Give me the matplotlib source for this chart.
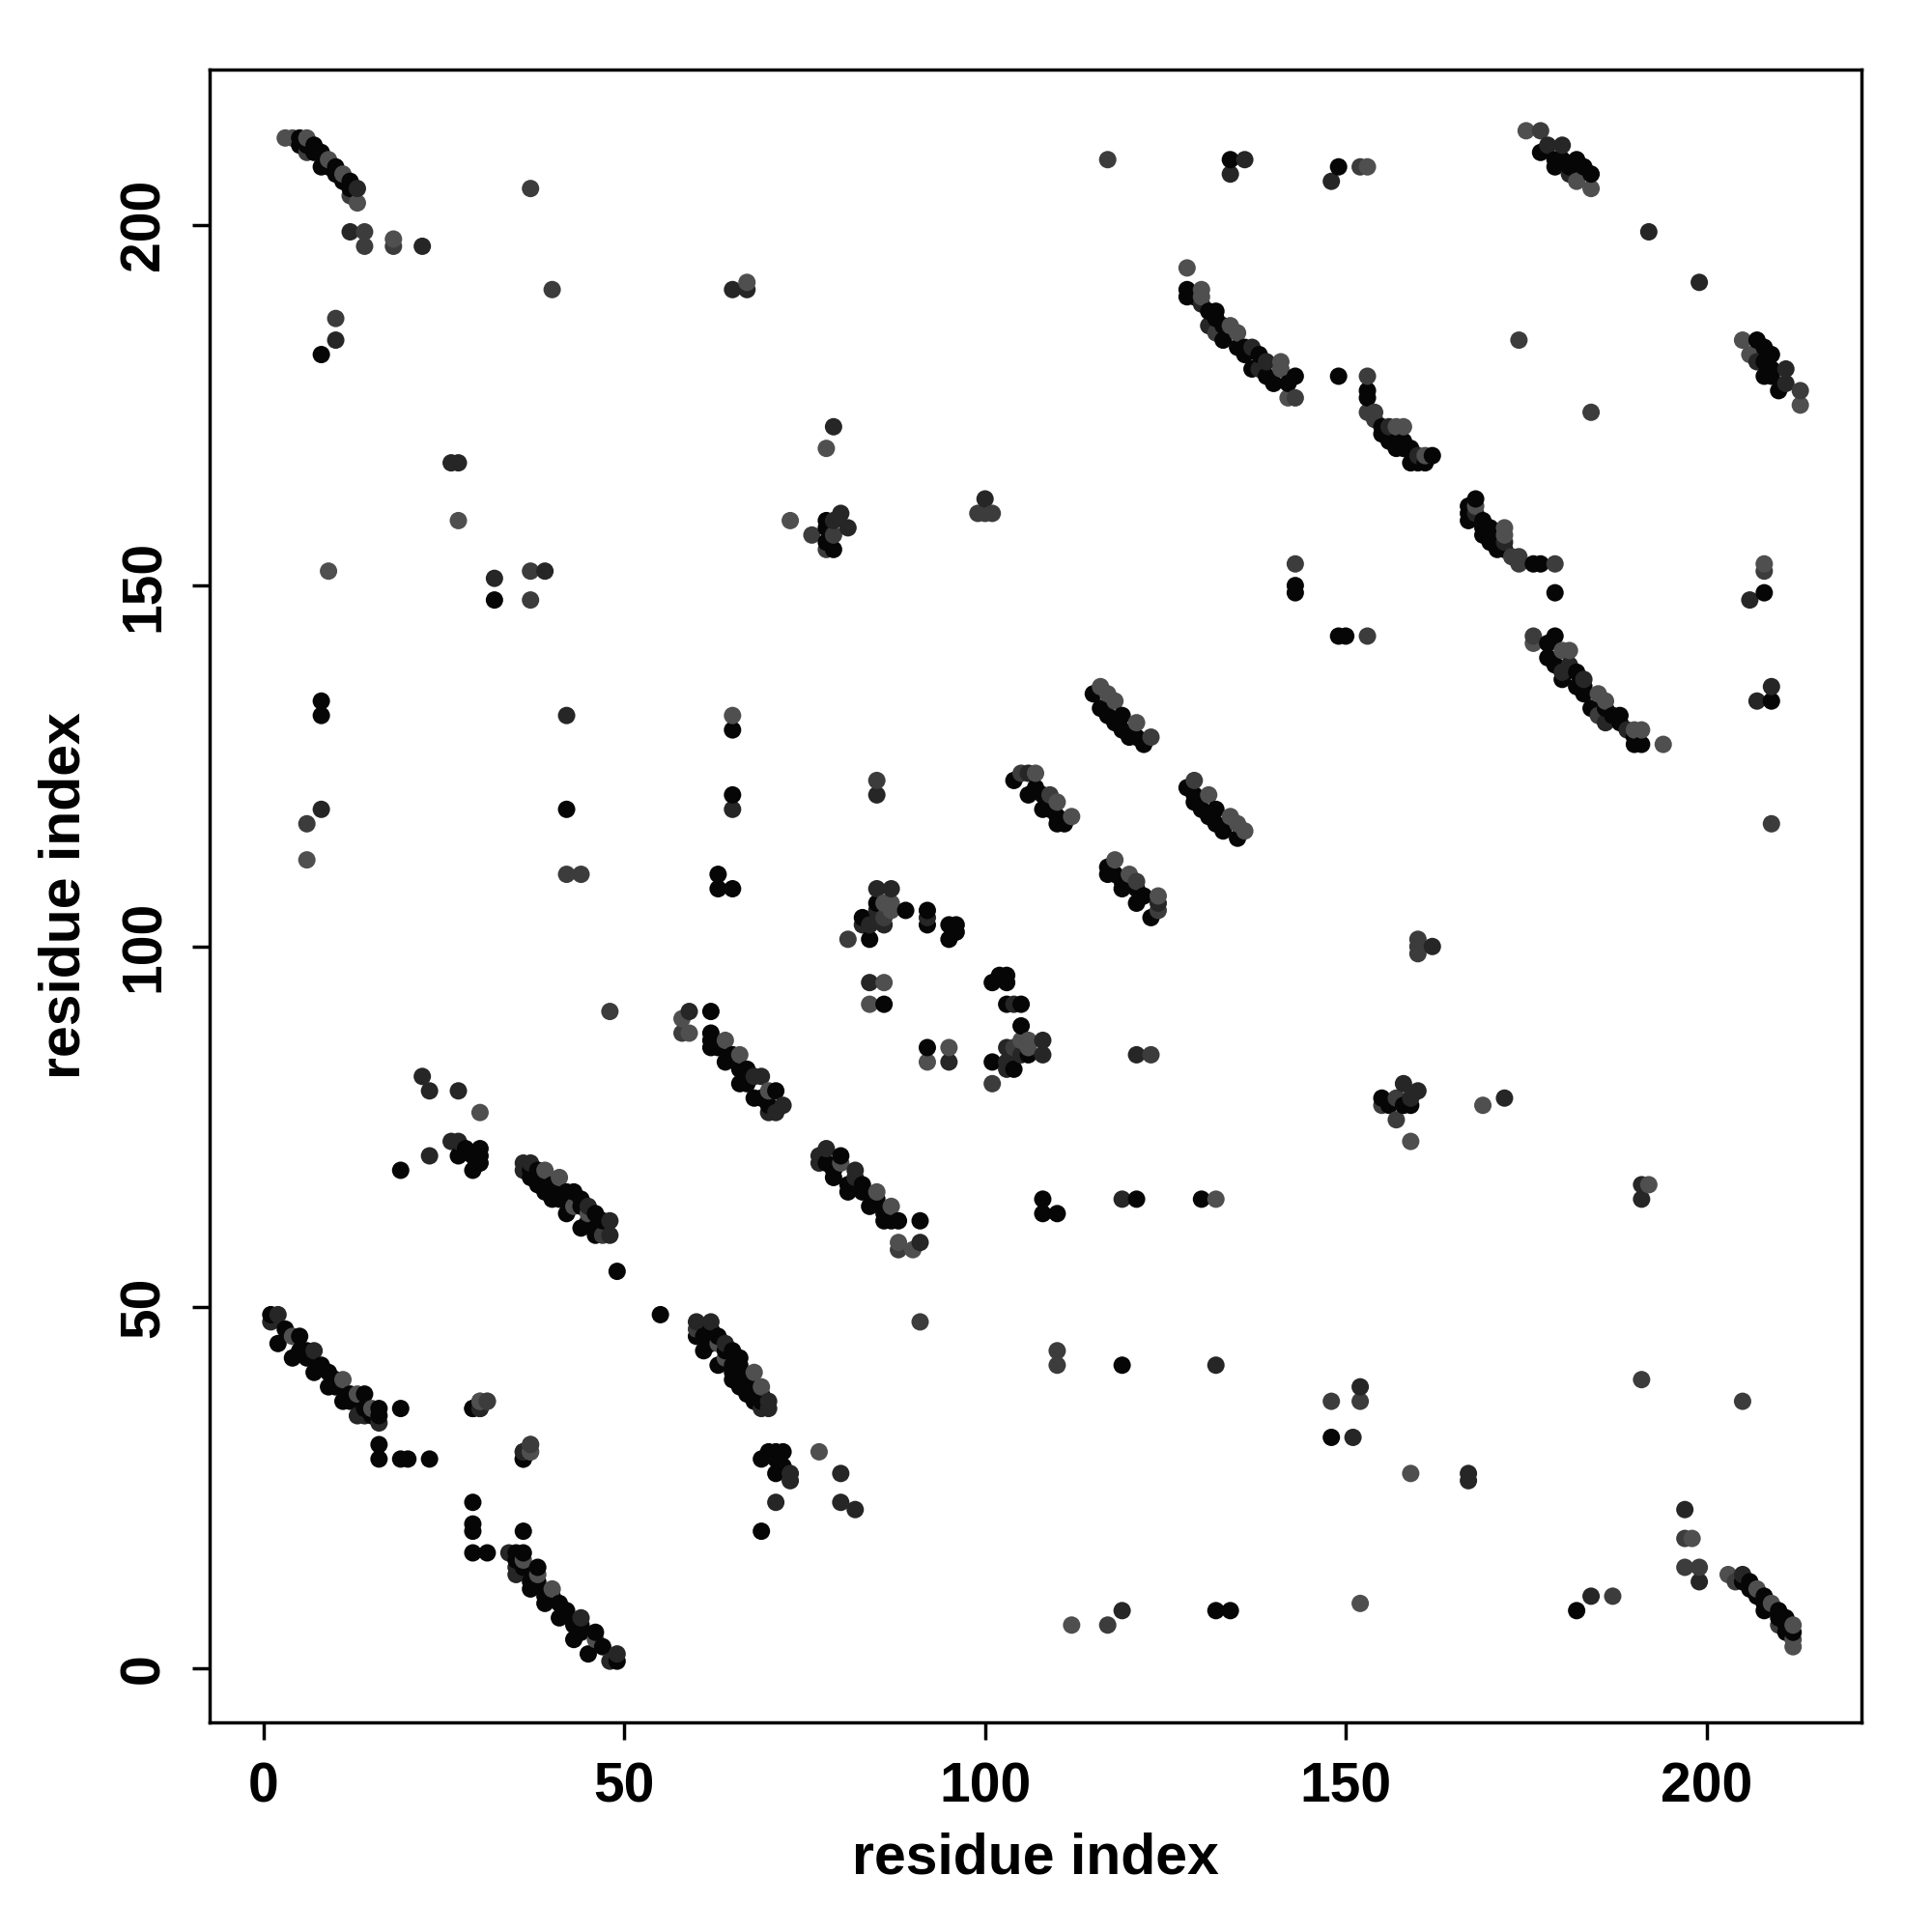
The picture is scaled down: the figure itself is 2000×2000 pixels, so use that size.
import numpy as np
import matplotlib
matplotlib.use("Agg")
import matplotlib.pyplot as plt

plt.rcParams['font.family'] = ['Liberation Sans', 'DejaVu Sans']

# contact pairs (i < j), the map is symmetric so the mirror gets added below
light_pairs = [(3,212),(4,212),(6,212),(9,209),(11,207),(13,203),(18,198),(67,192),(78,169),(27,159),(73,159),
               (9,152),(65,132),(6,112),(30,77),(30,37),(37,30),(37,31),(4,46),(11,40),(13,38),(15,36),
               (45,63),(43,64),(41,68),(39,69),(58,90),(59,88),(64,87),(66,85),(70,80),
               (116,136),(117,135),(118,134),(121,131),(107,124),(110,120),(112,118),
               (86,106),(87,106),(87,105),(86,95),(84,92),
               (128,194),(130,191),(130,190),(134,186),(135,185),(141,181),(141,180),(142,176),
               (157,172),(158,172),(161,168),(153,208),(175,213),(182,206),(184,205)]
mid_pairs = [(12,204),(14,199),(14,197),(18,197),(37,205),(40,191),(10,187),(76,157),(37,152),(37,148),(6,117),
             (85,123),(42,110),(44,110),(48,91),(31,37),(47,60),(58,88),(86,104),(6,210),(78,155),(79,157),
             (100,160),(101,160),(99,160),(153,179),(153,174),(154,174),(154,173),(143,153),(143,176),(117,209),
             (152,208),(132,185),(177,213),(105,124),(109,121),(123,129),(81,101),(174,184)]
dark_pairs = [(2,49),(1,48),(7,44),(13,35),(14,35),(16,34),(30,36),(36,30),(12,199),(13,205),(22,197),(10,184),
              (65,191),(67,191),(26,167),(27,167),(32,151),(39,152),(42,132),(8,119),(65,119),(85,121),
              (79,172),(80,160),(81,158),(79,159),(22,82),(23,80),(27,80),(23,71),(26,73),(27,73),
              (48,60),(48,62),(45,64),(37,70),(36,69),(36,70),(59,91),(69,82),(68,82),(72,78),(70,77),(71,77),
              (106,124),(83,103),(84,103),(86,103),(85,108),(87,108),(85,105),(92,104),(84,95),
              (139,181),(138,180),(137,183),(130,189),(131,186),(100,162),(156,172),(160,168),
              (134,207),(136,209),(148,206),(192,199),(180,211),(178,211),(181,207)]
black_pairs = [(1,49),(3,47),(2,45),(5,46),(4,43),(5,44),(6,44),(6,43),(7,41),(8,42),(9,41),(9,39),(10,40),(10,39),
               (11,37),(12,38),(12,37),(14,38),(14,36),(15,35),(16,36),(16,35),(19,36),(16,31),(16,29),(19,29),(20,29),(23,29),
               (29,36),(36,29),(5,212),(5,211),(6,211),(7,211),(7,210),(8,210),(8,208),(9,208),(10,208),(10,207),(11,206),(12,206),(12,205),
               (8,182),(8,134),(8,132),(32,148),(42,119),(65,130),(65,121),(63,110),(63,108),(65,108),
               (78,159),(78,158),(78,156),(79,155),(19,69),(27,71),(28,72),(29,71),(30,72),(30,71),(29,69),(30,70),(49,55),
               (46,61),(46,60),(43,66),(44,61),(42,63),(41,65),(38,67),(47,62),(46,63),(45,62),(44,64),(44,65),(42,66),(42,65),
               (40,65),(40,67),(39,67),(38,69),(37,69),(37,68),(39,66),
               (62,91),(62,88),(62,87),(62,86),(63,86),(64,84),(65,85),(66,83),(67,83),(66,81),(67,81),(68,79),(69,79),(70,78),(71,80),
               (115,135),(116,133),(119,132),(118,131),(120,129),(121,129),(122,128),(117,132),(119,130),
               (104,123),(106,121),(108,119),(110,117),(111,117),(107,122),(108,121),(109,119),(110,118),
               (84,101),(83,104),(85,106),(89,105),(92,105),(92,103),(95,103),(96,103),(95,101),(96,102),(86,92),
               (128,191),(128,190),(129,190),(131,188),(132,188),(132,187),(133,186),(133,184),(135,183),(136,183),(136,182),
               (138,182),(137,180),(139,179),(140,178),(143,179),(142,178),
               (149,179),(153,177),(153,176),(155,172),(155,171),(156,171),(156,170),(157,170),(157,169),(158,170),(158,169),(159,169),
               (159,167),(160,167),(161,167),(162,168),(143,150),(143,149),(149,208),(134,209),
               (177,210),(179,208),(182,209),(184,207),(179,209),(180,209),(181,208),(183,208)]

shades = [('#4f4f4f', light_pairs), ('#3c3c3c', mid_pairs), ('#262626', dark_pairs), ('#060606', black_pairs)]

xs, ys, cols = [], [], []
for col, pairs in shades:
    for i, j in pairs:
        xs += [i, j]
        ys += [j, i]
        cols += [col, col]
xs = np.array(xs)
ys = np.array(ys)
order = np.lexsort((ys, xs))  # later residues get drawn on top

fig = plt.figure(figsize=(20, 20), dpi=100)
ax = fig.add_axes([0.1085, 0.1085, 0.855, 0.8555])
ax.scatter(xs[order], ys[order], c=[cols[k] for k in order], s=168, linewidths=0)

ax.set_xlim(-7.48, 221.48)
ax.set_ylim(-7.48, 221.48)
ticks = [0, 50, 100, 150, 200]
ax.set_xticks(ticks)
ax.set_yticks(ticks)
ax.tick_params(length=13, width=2.5, pad=16, labelsize=41)
for lab in ax.get_xticklabels():
    lab.set_fontweight('bold')
for lab in ax.get_yticklabels():
    lab.set_fontweight('bold')
    lab.set_rotation(90)
    lab.set_va('center')
for sp in ax.spines.values():
    sp.set_linewidth(2.5)
ax.set_xlabel('residue index', fontsize=42.5, fontweight='bold', labelpad=14)
ax.set_ylabel('residue index', fontsize=42.5, fontweight='bold', labelpad=20)

fig.savefig('out.png', dpi=100)
